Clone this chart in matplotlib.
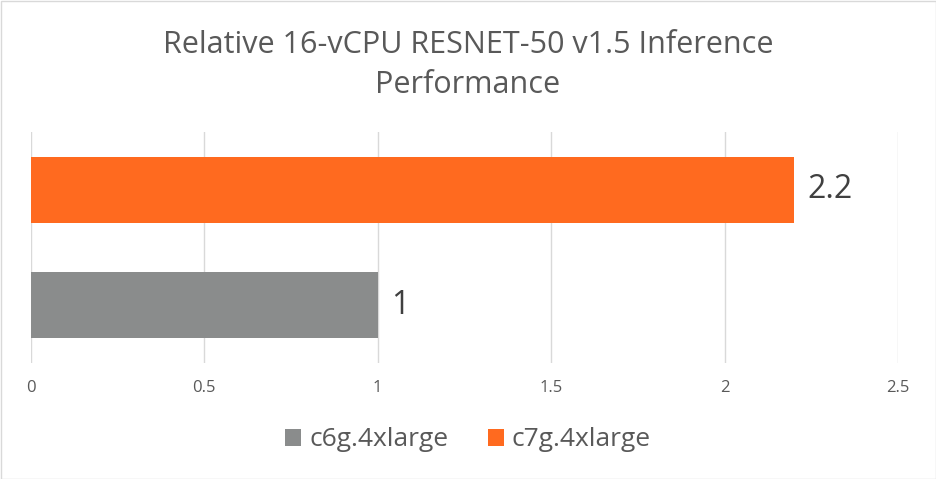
import matplotlib
matplotlib.use("Agg")
import matplotlib.pyplot as plt
from matplotlib.patches import Patch, Rectangle

categories = ["c6g.4xlarge", "c7g.4xlarge"]
values = [1.0, 2.2]
colors = ["#8A8C8C", "#FF6A1F"]
xticks = [0, 0.5, 1, 1.5, 2, 2.5]
xticklabels = ["0", "0.5", "1", "1.5", "2", "2.5"]
title = "Relative 16-vCPU RESNET-50 v1.5 Inference\nPerformance"

plt.rcParams['font.family'] = ['Open Sans', 'DejaVu Sans']
W, H = 936, 479
fig = plt.figure(figsize=(W/100, H/100), dpi=100)
ax = fig.add_axes([30.5/W, 1-363/H, (898-30.5)/W, (363-132)/H])

ypos = list(range(len(categories)))
ax.barh(ypos, values, height=0.57, color=colors, zorder=3)
for y, v in zip(ypos, values):
    ax.text(v + 0.04, y, f"{v:g}", va="center", ha="left", fontsize=23, color="#404040")

ax.set_xlim(0, 2.5)
ax.set_ylim(-0.5, 1.5)
ax.set_xticks(xticks)
ax.set_xticklabels(xticklabels, fontsize=12, color="#595959")
ax.set_yticks([])
ax.tick_params(axis="x", length=0, pad=12)
ax.grid(axis="x", color="#D9D9D9", linewidth=1, zorder=0)
for s in ax.spines.values():
    s.set_visible(False)

fig.text(0.5, 1-65/H, title, ha="center", va="center", fontsize=22, color="#595959", linespacing=1.42)

handles = [Patch(facecolor=c, label=l) for c, l in zip(colors, categories)]
fig.legend(handles=handles, loc="center", bbox_to_anchor=(0.5, 1-440/H), ncol=2, frameon=False,
           fontsize=19, labelcolor="#595959", handlelength=0.6, handleheight=0.6, handletextpad=0.3,
           columnspacing=1.5)

fig.add_artist(Rectangle((0.5/W, 0.5/H), 1-1/W, 1-1/H, transform=fig.transFigure, fill=False,
                         edgecolor="#D9D9D9", linewidth=1))

fig.savefig("out.png", dpi=100, facecolor="white")
